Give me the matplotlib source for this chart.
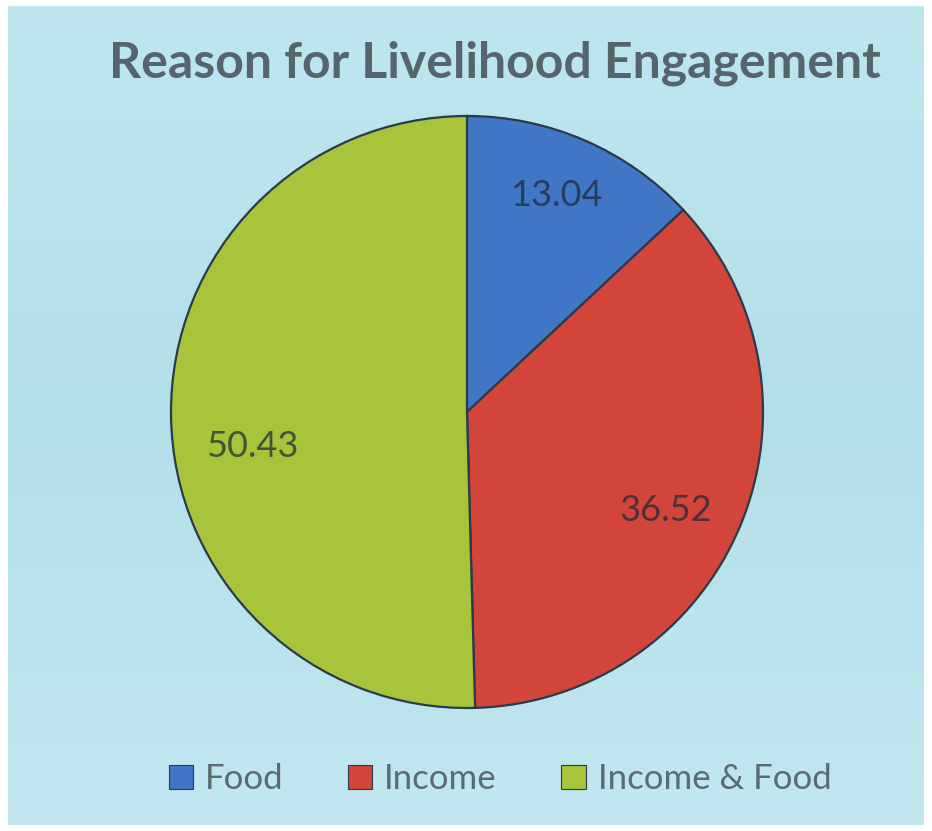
import numpy as np
import matplotlib.pyplot as plt
from matplotlib.colors import LinearSegmentedColormap

categories = ["Food", "Income", "Income & Food"]
values = [13.04, 36.52, 50.43]
colors = ["#3f77c6", "#d3443a", "#a8c43a"]

fig = plt.figure(figsize=(9.32, 8.31), dpi=100)
fig.patch.set_facecolor("white")

# light blue panel behind everything, white frame around it
bg = fig.add_axes([8 / 932, 6 / 831, 916 / 932, 819 / 831])
grad = np.linspace(0, 1, 256).reshape(-1, 1)
water = LinearSegmentedColormap.from_list("water", ["#bfe6ef", "#b3dfea", "#c2e7f0"])
bg.imshow(grad, aspect="auto", cmap=water, extent=[0, 1, 0, 1])
bg.set_axis_off()

font = ["Lato", "DejaVu Sans"]

fig.text(495 / 932, 1 - 63 / 831, "Reason for Livelihood Engagement", ha="center", va="center",
         fontsize=36, fontweight="bold", color="#56656b", family=font)

cx, cy, r = 467 / 932, 1 - 412 / 831, 296
ax = fig.add_axes([cx - r / 932, cy - r / 831, 2 * r / 932, 2 * r / 831])
wedges, _ = ax.pie(values, colors=colors, startangle=90, counterclock=False,
                   wedgeprops=dict(edgecolor="#2b3a4a", linewidth=1.6))
ax.set_xlim(-1, 1)
ax.set_ylim(-1, 1)
ax.set_aspect("equal")

# value labels: radial distance and angle for each wedge
offsets = [(0.79, 67.5), (0.75, -26.3), (0.735, 189.2)]
for v, (dist, ang) in zip(values, offsets):
    a = np.deg2rad(ang)
    ax.text(dist * np.cos(a), dist * np.sin(a), f"{v:.2f}", ha="center", va="center",
            fontsize=26, color="#1c2838", alpha=0.72, family=font)

leg = fig.legend(wedges, categories, loc="center", bbox_to_anchor=(500 / 932, 1 - 779 / 831),
                 ncol=3, frameon=False, handlelength=0.7, handleheight=0.7,
                 handletextpad=0.35, columnspacing=1.85, prop={"family": font, "size": 25})
for t in leg.get_texts():
    t.set_color("#5c6b72")
for h in leg.legend_handles:
    h.set_linewidth(0.8)

fig.savefig("out.png", dpi=100)
